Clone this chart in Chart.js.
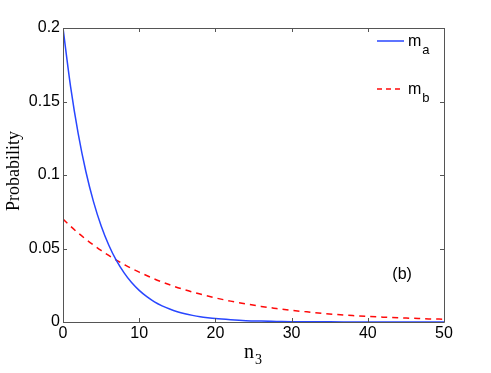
<!DOCTYPE html>
<html>
<head>
<meta charset="utf-8">
<script src="https://cdn.jsdelivr.net/npm/chart.js@4.4.0/dist/chart.umd.min.js"></script>
<style>
  html, body { margin: 0; padding: 0; background: #fff; }
  #wrap { width: 491px; height: 373px; }
</style>
</head>
<body>
<div id="wrap"><canvas id="myChart" width="491" height="373"></canvas></div>
<script>
// values
const nA = [0, 1, 2, 3, 4, 5, 6, 7, 8, 9, 10, 11, 12, 13, 14, 15, 16, 17, 18, 19, 20, 22, 24, 26, 28, 30, 35, 40, 45, 50];
const probA = [0.2, 0.16, 0.128, 0.1024, 0.0819, 0.0655, 0.0524, 0.0419, 0.0336, 0.0268, 0.0215, 0.0172, 0.0137, 0.011, 0.0088, 0.007, 0.0056, 0.0045, 0.0036, 0.0029, 0.0023, 0.0015, 0.0009, 0.0006, 0.0004, 0.0002, 0.0001, 0.0, 0.0, 0.0];
const nB = [0, 1, 2, 3, 4, 5, 6, 7, 8, 9, 10, 12, 14, 16, 18, 20, 22, 24, 26, 28, 30, 32, 34, 36, 38, 40, 42, 44, 46, 48, 50];
const probB = [0.07, 0.0651, 0.0605, 0.0563, 0.0524, 0.0487, 0.0453, 0.0421, 0.0392, 0.0364, 0.0339, 0.0293, 0.0253, 0.0219, 0.019, 0.0164, 0.0142, 0.0123, 0.0106, 0.0092, 0.0079, 0.0069, 0.0059, 0.0051, 0.0044, 0.0038, 0.0033, 0.0029, 0.0025, 0.0021, 0.0019];
const xTicks = [0, 10, 20, 30, 40, 50];
const yTicks = [0, 0.05, 0.1, 0.15, 0.2];

const blue = 'rgb(40, 70, 255)';
const red = 'rgb(255, 10, 10)';
const axisColor = '#555';
const sans = '"Liberation Sans", Arial, sans-serif';
const serif = '"Liberation Serif", "Times New Roman", serif';

const toPoints = (xs, ys) => xs.map((x, i) => ({ x: x, y: ys[i] }));

// text with a subscript, left aligned at x
const subText = (ctx, main, sub, x, y, font, subFont, subDrop) => {
  ctx.font = font;
  ctx.fillText(main, x, y);
  const w = ctx.measureText(main).width;
  ctx.font = subFont;
  ctx.fillText(sub, x + w + 1, y + subDrop);
};

const decorations = {
  id: 'decorations',
  afterDraw(chart) {
    const ctx = chart.ctx;
    const a = chart.chartArea;
    const xs = chart.scales.x;
    const ys = chart.scales.y;
    ctx.save();

    // box
    ctx.strokeStyle = axisColor;
    ctx.lineWidth = 1;
    ctx.beginPath();
    ctx.moveTo(a.left + 0.5, a.top + 0.5);
    ctx.lineTo(a.right + 0.5, a.top + 0.5);
    ctx.lineTo(a.right + 0.5, a.bottom + 0.5);
    ctx.lineTo(a.left + 0.5, a.bottom + 0.5);
    ctx.closePath();
    ctx.stroke();

    // inner ticks on all sides
    ctx.beginPath();
    xTicks.forEach((v) => {
      const px = Math.round(xs.getPixelForValue(v)) + 0.5;
      ctx.moveTo(px, a.bottom); ctx.lineTo(px, a.bottom - 4);
      ctx.moveTo(px, a.top); ctx.lineTo(px, a.top + 4);
    });
    yTicks.forEach((v) => {
      const py = Math.round(ys.getPixelForValue(v)) + 0.5;
      ctx.moveTo(a.left, py); ctx.lineTo(a.left + 4, py);
      ctx.moveTo(a.right, py); ctx.lineTo(a.right - 4, py);
    });
    ctx.stroke();

    ctx.fillStyle = '#000';
    ctx.textBaseline = 'alphabetic';

    // y title
    ctx.save();
    ctx.translate(19, (a.top + a.bottom) / 2 - 4);
    ctx.rotate(-Math.PI / 2);
    ctx.font = '18px ' + serif;
    ctx.textAlign = 'center';
    ctx.fillText('Probability', 0, 0);
    ctx.restore();

    // x title n_3
    ctx.textAlign = 'left';
    subText(ctx, 'n', '3', 244, 358, '20px ' + serif, '14px ' + serif, 6);

    // legend
    ctx.lineWidth = 1.5;
    ctx.strokeStyle = blue;
    ctx.beginPath();
    ctx.moveTo(377, 41); ctx.lineTo(404, 41);
    ctx.stroke();
    ctx.strokeStyle = red;
    ctx.setLineDash([5, 4]);
    ctx.beginPath();
    ctx.moveTo(377, 89); ctx.lineTo(404, 89);
    ctx.stroke();
    ctx.setLineDash([]);
    ctx.fillStyle = '#000';
    subText(ctx, 'm', 'a', 408, 46, '16px ' + sans, '13px ' + sans, 8);
    subText(ctx, 'm', 'b', 408, 94, '16px ' + sans, '13px ' + sans, 8);

    // panel label
    ctx.font = '16px ' + sans;
    ctx.textAlign = 'center';
    ctx.fillText('(b)', xs.getPixelForValue(44.5), ys.getPixelForValue(0.033) + 6);

    ctx.restore();
  }
};

const generateChart = () => {
  const ctx = document.getElementById('myChart').getContext('2d');
  return new Chart(ctx, {
    type: 'line',
    data: {
      datasets: [
        {
          label: 'ma',
          data: toPoints(nA, probA),
          borderColor: blue,
          borderWidth: 1.5,
          pointRadius: 0,
          cubicInterpolationMode: 'monotone',
          fill: false
        },
        {
          label: 'mb',
          data: toPoints(nB, probB),
          borderColor: red,
          borderWidth: 1.5,
          borderDash: [6, 5],
          pointRadius: 0,
          cubicInterpolationMode: 'monotone',
          fill: false
        }
      ]
    },
    options: {
      responsive: false,
      animation: false,
      layout: { padding: { left: 0, right: 47, top: 28, bottom: 0 } },
      plugins: { legend: { display: false }, tooltip: { enabled: false } },
      scales: {
        x: {
          type: 'linear',
          min: 0,
          max: 50,
          afterFit: (scale) => { scale.height = 51; },
          afterBuildTicks: (scale) => { scale.ticks = xTicks.map((v) => ({ value: v })); },
          grid: { display: false, drawTicks: false },
          border: { display: false },
          ticks: { color: '#000', font: { family: sans, size: 16 }, padding: 2, maxRotation: 0 }
        },
        y: {
          min: 0,
          max: 0.2,
          afterFit: (scale) => { scale.width = 63; },
          afterBuildTicks: (scale) => { scale.ticks = yTicks.map((v) => ({ value: v })); },
          grid: { display: false, drawTicks: false },
          border: { display: false },
          ticks: {
            color: '#000',
            font: { family: sans, size: 16 },
            padding: 3,
            callback: (v) => String(+v.toFixed(2))
          }
        }
      }
    },
    plugins: [decorations]
  });
};

generateChart();
</script>
</body>
</html>
